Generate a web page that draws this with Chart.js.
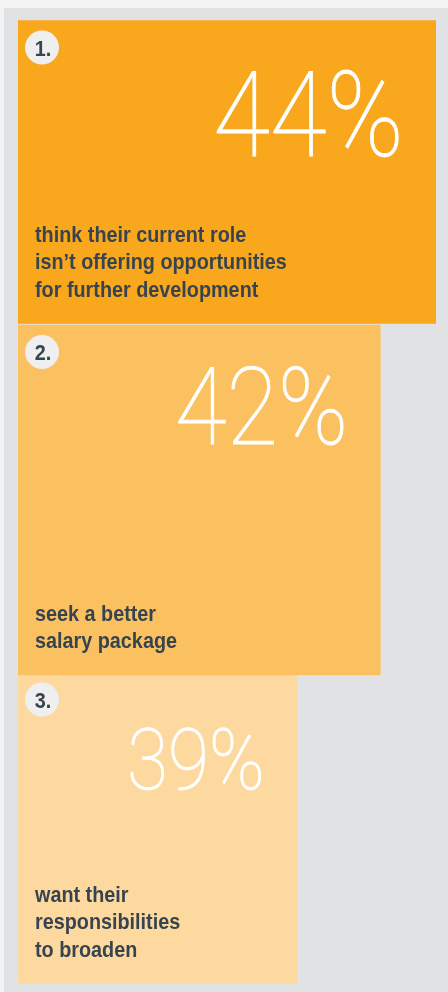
<!DOCTYPE html>
<html>
<head>
<meta charset="utf-8">
<script src="https://cdn.jsdelivr.net/npm/chart.js@4.4.1/dist/chart.umd.min.js"></script>
<style>
	html, body { margin: 0; padding: 0; background: #f3f3f3; }
	#wrap { position: relative; width: 448px; height: 992px; }
	#panel { position: absolute; left: 4px; top: 8px; width: 444px; height: 984px; background: #e1e2e4; }
	#box { position: absolute; left: 0; top: 0; width: 448px; height: 992px; }
</style>
</head>
<body>
<div id="wrap">
	<div id="panel"></div>
	<div id="box"><canvas id="rankChart"></canvas></div>
</div>
<script>
// 데이터
var ranks = ['1.', '2.', '3.'];
var values = [44, 42, 39];
var captions = [
	['think their current role', 'isn\u2019t offering opportunities', 'for further development'],
	['seek a better', 'salary package'],
	['want their', 'responsibilities', 'to broaden']
];

// 스타일
var barColors = ['#f9a71c', '#fbc060', '#fed99f'];
var barHeights = [303, 350, 311];
var numberSizes = [118, 107, 85];
var numberBaselines = [135, 119, 116]; // 막대 윗변 기준
var inkColor = '#36444f';
var boldFont = 'bold 22.5px "Liberation Sans", Arial, sans-serif';

// 막대 하나당 데이터셋 하나 (높이가 각각 다름)
var datasets = values.map(function(v, i) {
	return {
		data: values.map(function(val, j) { return j === i ? val : null; }),
		backgroundColor: barColors[i],
		barThickness: barHeights[i],
		grouped: false,
		borderWidth: 0
	};
});

// 좁은 굵은 글씨 (가로 압축)
function narrowText(ctx, text, x, y, align) {
	ctx.save();
	ctx.translate(x, y);
	ctx.scale(0.88, 1);
	ctx.font = boldFont;
	ctx.textAlign = align;
	ctx.fillText(text, 0, 0);
	ctx.restore();
}

// 번호, 큰 숫자, 설명 글씨 그리기
var textPlugin = {
	id: 'rankText',
	afterDatasetsDraw: function(chart) {
		var ctx = chart.ctx;
		var left = chart.chartArea.left;
		ctx.save();
		values.forEach(function(v, i) {
			var bar = chart.getDatasetMeta(i).data[i];
			var top = bar.y - barHeights[i] / 2;
			var bottom = bar.y + barHeights[i] / 2;

			// 번호 원
			ctx.fillStyle = '#efeff0';
			ctx.beginPath();
			ctx.arc(left + 24, top + 27, 17, 0, Math.PI * 2);
			ctx.fill();
			ctx.fillStyle = inkColor;
			ctx.textBaseline = 'alphabetic';
			narrowText(ctx, ranks[i], left + 25, top + 35, 'center');

			// 큰 숫자 (가로로 조금 좁게, 획 약간 두껍게)
			var fs = numberSizes[i];
			ctx.save();
			ctx.translate(bar.x - 32, top + numberBaselines[i]);
			ctx.scale(0.88, 1);
			ctx.fillStyle = '#ffffff';
			ctx.strokeStyle = '#ffffff';
			ctx.lineWidth = 0.9;
			ctx.font = '100 ' + fs + 'px Roboto, Lato, sans-serif';
			ctx.textAlign = 'right';
			ctx.fillText(v + '%', 0, 0);
			ctx.strokeText(v + '%', 0, 0);
			ctx.restore();

			// 설명
			ctx.fillStyle = inkColor;
			var lines = captions[i];
			for (var k = 0; k < lines.length; k++) {
				var y = bottom - 27 - (lines.length - 1 - k) * 27.5;
				narrowText(ctx, lines[k], left + 17, y, 'left');
			}
		});
		ctx.restore();
	}
};

var myRankChart = new Chart(document.getElementById('rankChart'), {
	type: 'bar',
	data: {
		labels: ranks,
		datasets: datasets
	},
	options: {
		indexAxis: 'y',
		responsive: true,
		maintainAspectRatio: false,
		animation: false,
		layout: {
			padding: { left: 18, right: 12, top: 8, bottom: 0 }
		},
		scales: {
			x: { display: false, min: 29, max: 44 },
			y: { display: false }
		},
		plugins: {
			legend: { display: false },
			tooltip: { enabled: false }
		}
	},
	plugins: [textPlugin]
});
</script>
</body>
</html>
